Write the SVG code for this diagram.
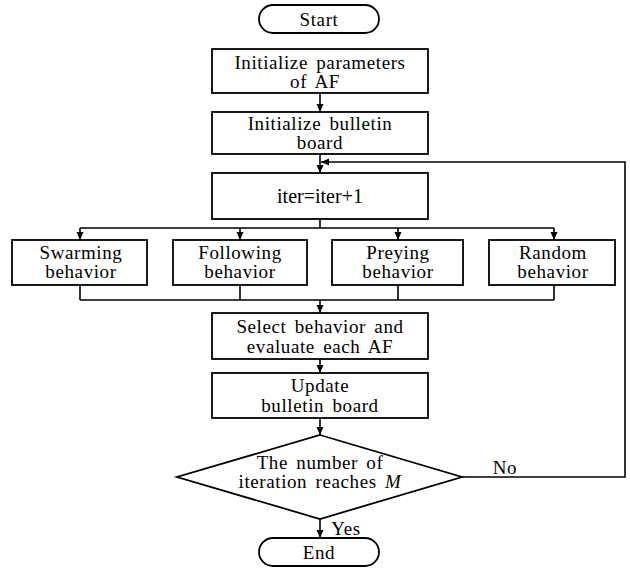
<svg xmlns="http://www.w3.org/2000/svg" width="630" height="570" viewBox="0 0 630 570">
<style>
.b{fill:#fff;stroke:#000;stroke-width:1.8}
.c{fill:none;stroke:#000;stroke-width:1.6}
text{font-family:"Liberation Serif","Times New Roman","DejaVu Serif",serif;font-size:19px;fill:#000;text-anchor:middle;letter-spacing:0.6px;word-spacing:3px}
</style>
<defs>
<marker id="ah" markerUnits="userSpaceOnUse" markerWidth="9" markerHeight="8" refX="8" refY="3.5" orient="auto">
<path d="M0,0 L8,3.5 L0,7 z" fill="#000"/>
</marker>
</defs>
<rect width="630" height="570" fill="#fff"/>
<g id="connectors">
<line class="c" x1="320" y1="93" x2="320" y2="112" marker-end="url(#ah)"/>
<line class="c" x1="320" y1="154" x2="320" y2="173" marker-end="url(#ah)"/>
<path class="c" d="M462,477 H625 V162 H321" marker-end="url(#ah)"/>
<path class="c" d="M320,219 V228 M80,228 H554"/>
<line class="c" x1="80" y1="228" x2="80" y2="240" marker-end="url(#ah)"/>
<line class="c" x1="240" y1="228" x2="240" y2="240" marker-end="url(#ah)"/>
<line class="c" x1="398" y1="228" x2="398" y2="240" marker-end="url(#ah)"/>
<line class="c" x1="554" y1="228" x2="554" y2="240" marker-end="url(#ah)"/>
<path class="c" d="M80,285 V300 M240,285 V300 M398,285 V300 M554,285 V300 M80,300 H554"/>
<line class="c" x1="320" y1="300" x2="320" y2="313" marker-end="url(#ah)"/>
<line class="c" x1="320" y1="359" x2="320" y2="373" marker-end="url(#ah)"/>
<line class="c" x1="320" y1="418" x2="320" y2="435" marker-end="url(#ah)"/>
<line class="c" x1="320" y1="519" x2="320" y2="538" marker-end="url(#ah)"/>
<text x="346" y="535">Yes</text>
<text x="505" y="474">No</text>
</g>
<g id="start"><rect class="b" x="259" y="5" width="120" height="28" rx="14"/><text x="319" y="26">Start</text></g>
<g id="init-params"><rect class="b" x="212" y="49" width="216" height="44"/><text x="320" y="69">Initialize parameters</text><text x="315" y="88">of AF</text></g>
<g id="init-board"><rect class="b" x="212" y="112" width="216" height="42"/><text x="320" y="130">Initialize bulletin</text><text x="320" y="149">board</text></g>
<g id="iter"><rect class="b" x="212" y="173" width="216" height="46"/><text x="320" y="203" style="font-size:20px;letter-spacing:0">iter=iter+1</text></g>
<g id="swarming"><rect class="b" x="12" y="240" width="135" height="45"/><text x="81" y="259">Swarming</text><text x="81" y="278">behavior</text></g>
<g id="following"><rect class="b" x="173" y="240" width="134" height="45"/><text x="240" y="259">Following</text><text x="240" y="278">behavior</text></g>
<g id="preying"><rect class="b" x="332" y="240" width="131" height="45"/><text x="398" y="259">Preying</text><text x="398" y="278">behavior</text></g>
<g id="random"><rect class="b" x="489" y="240" width="126" height="45"/><text x="553" y="259">Random</text><text x="553" y="278">behavior</text></g>
<g id="select"><rect class="b" x="212" y="313" width="216" height="46"/><text x="320" y="333">Select behavior and</text><text x="320" y="353">evaluate each AF</text></g>
<g id="update"><rect class="b" x="212" y="373" width="216" height="45"/><text x="320" y="392">Update</text><text x="320" y="412">bulletin board</text></g>
<g id="decision"><polygon class="b" points="320,435 462,477 320,519 177,477"/><text x="320" y="469">The number of</text><text x="320" y="488">iteration reaches <tspan font-style="italic">M</tspan></text></g>
<g id="end"><rect class="b" x="259" y="538" width="120" height="28" rx="14"/><text x="319" y="559">End</text></g>
</svg>
